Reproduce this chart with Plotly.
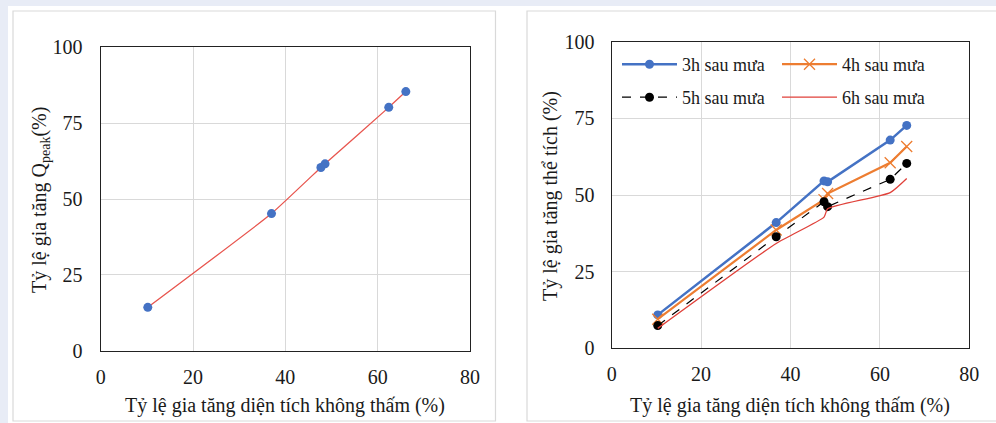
import plotly.graph_objects as go

W, H = 996, 423

# ---- data: left chart (peak discharge increase) ----
x_peak = [10.2, 37.0, 47.7, 48.6, 62.4, 66.1]
y_peak = [14.3, 45.2, 60.4, 61.6, 80.2, 85.4]

# ---- data: right chart (volume increase) ----
x_vol = [10.3, 36.8, 47.5, 48.3, 62.3, 66.0]
y_3h = [10.9, 41.0, 54.6, 54.3, 67.9, 72.7]
y_4h = [9.5, 38.6, 48.5, 50.5, 60.5, 65.8]
y_5h = [7.4, 36.4, 47.8, 46.2, 55.1, 60.3]
y_6h = [6.5, 34.2, 42.8, 45.5, 50.8, 55.4]

series_names = ["3h sau mưa", "4h sau mưa", "5h sau mưa", "6h sau mưa"]
x_ticks = [0, 20, 40, 60, 80]
y_ticks = [0, 25, 50, 75, 100]

x_title = "Tỷ lệ gia tăng diện tích không thấm (%)"
y_title_left = "Tỷ lệ gia tăng Q<sub>peak</sub>(%)"
y_title_right = "Tỷ lệ gia tăng thể tích (%)"

FONT = "Times New Roman, Liberation Serif, serif"
TXT = "#1a1a1a"
BLUE = "#4472c4"
ORANGE = "#ed7d31"
RED = "#e0413a"
PAGE_BG = "#e8ecf6"


def px_x(p):
    return p / W


def px_y(p):
    return 1 - p / H


fig = go.Figure()

# left chart
fig.add_trace(go.Scatter(x=x_peak, y=y_peak, mode="lines", line=dict(color="#e8564f", width=1.3, shape="spline", smoothing=0.4),
                         xaxis="x", yaxis="y", showlegend=False, hoverinfo="skip"))
fig.add_trace(go.Scatter(x=x_peak, y=y_peak, mode="markers", marker=dict(color=BLUE, size=9),
                         xaxis="x", yaxis="y", showlegend=False))

# right chart
fig.add_trace(go.Scatter(x=x_vol, y=y_3h, name=series_names[0], mode="lines+markers",
                         line=dict(color=BLUE, width=2.5), marker=dict(color=BLUE, size=9),
                         xaxis="x2", yaxis="y2", legend="legend"))
fig.add_trace(go.Scatter(x=x_vol, y=y_4h, name=series_names[1], mode="lines+markers",
                         line=dict(color=ORANGE, width=2.2),
                         marker=dict(symbol="x-thin", color=ORANGE, size=11, line=dict(color=ORANGE, width=1.3)),
                         xaxis="x2", yaxis="y2", legend="legend"))
fig.add_trace(go.Scatter(x=x_vol, y=y_5h, name=series_names[2], mode="lines+markers",
                         line=dict(color="black", width=1.2, dash="dash"), marker=dict(color="black", size=9),
                         xaxis="x2", yaxis="y2", legend="legend2"))
fig.add_trace(go.Scatter(x=x_vol, y=y_6h, name=series_names[3], mode="lines",
                         line=dict(color=RED, width=1.3, shape="spline", smoothing=0.5),
                         xaxis="x2", yaxis="y2", legend="legend2"))

axis_common = dict(
    range=[0, 80], tickmode="array", tickvals=x_ticks, showgrid=True, gridcolor="#d9d9d9", gridwidth=1,
    showline=True, linecolor="#222", linewidth=1.3, mirror=True, zeroline=False, ticks="",
    tickfont=dict(family=FONT, size=20, color=TXT), fixedrange=True, automargin=False,
)
yaxis_common = dict(axis_common)
yaxis_common.update(range=[0, 100], tickvals=y_ticks)

legend_common = dict(orientation="h", xanchor="left", yanchor="top", bgcolor="rgba(0,0,0,0)",
                     font=dict(family=FONT, size=18, color=TXT), entrywidth=90,
                     entrywidthmode="pixels", itemwidth=55, traceorder="normal", borderwidth=0)

title_font = dict(family=FONT, size=20, color=TXT)

fig.update_layout(
    width=W, height=H, margin=dict(l=0, r=0, t=0, b=0, autoexpand=False),
    paper_bgcolor=PAGE_BG, plot_bgcolor="white",
    xaxis=dict(axis_common, domain=[px_x(100.7), px_x(470)], anchor="y", ticklabelstandoff=8),
    yaxis=dict(yaxis_common, domain=[px_y(350.7), px_y(47.3)], anchor="x", ticklabelstandoff=13),
    xaxis2=dict(axis_common, domain=[px_x(611.7), px_x(969.3)], anchor="y2", ticklabelstandoff=8),
    yaxis2=dict(yaxis_common, domain=[px_y(348.3), px_y(41.7)], anchor="x2", ticklabelstandoff=12),
    legend=dict(legend_common, x=px_x(617), y=px_y(46)),
    legend2=dict(legend_common, x=px_x(617), y=px_y(79)),
    shapes=[
        dict(type="rect", xref="paper", yref="paper", x0=px_x(8), x1=1.01, y0=-0.01, y1=px_y(6),
             fillcolor="white", line=dict(width=0), layer="below"),
        dict(type="rect", xref="paper", yref="paper", x0=px_x(13), x1=px_x(495.5), y0=px_y(421), y1=px_y(11),
             fillcolor="rgba(0,0,0,0)", line=dict(color="#d9d9d9", width=1.2), layer="below"),
        dict(type="rect", xref="paper", yref="paper", x0=px_x(527), x1=1.02, y0=px_y(421), y1=px_y(11),
             fillcolor="rgba(0,0,0,0)", line=dict(color="#d9d9d9", width=1.2), layer="below"),
    ],
    annotations=[
        dict(text=x_title, xref="paper", yref="paper", x=px_x(285), y=px_y(405), showarrow=False,
             font=title_font, xanchor="center", yanchor="middle"),
        dict(text=x_title, xref="paper", yref="paper", x=px_x(790), y=px_y(405), showarrow=False,
             font=title_font, xanchor="center", yanchor="middle"),
        dict(text=y_title_left, xref="paper", yref="paper", x=px_x(40), y=px_y(200), showarrow=False, textangle=-90,
             font=title_font, xanchor="center", yanchor="middle"),
        dict(text=y_title_right, xref="paper", yref="paper", x=px_x(550), y=px_y(196), showarrow=False, textangle=-90,
             font=title_font, xanchor="center", yanchor="middle"),
    ],
)

fig.write_html("out.html", config={"displayModeBar": False},
               post_script="document.body.style.margin='0';document.body.style.background='%s';" % PAGE_BG)
